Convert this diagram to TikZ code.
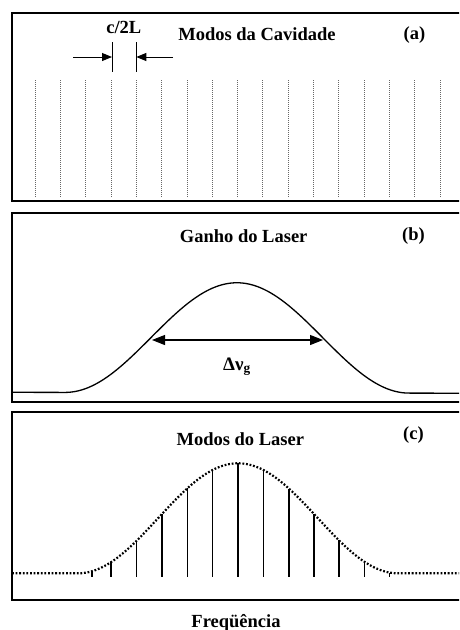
\documentclass[tikz,border=0pt]{standalone}
\usepackage{fontspec}
\setmainfont{Liberation Serif}
\usetikzlibrary{arrows.meta}
\begin{document}
\begin{tikzpicture}[x=1pt,y=-1pt,
  declare function={
    gainb(\t)=392.3-55*(1+cos(min(abs(\t-237),172)/172*180))+0.002*(\t-12);
    envc(\t)=573.3-55*(1+cos(min(abs(\t-238),160)/160*180));
  },
  panel/.style={draw=black,line width=2.2pt},
  lbl/.style={font=\fontsize{18.5}{22}\selectfont\bfseries, inner sep=0pt, anchor=base},
  cavmode/.style={black!60,line width=0.6pt,dash pattern=on 0.8pt off 1.2pt},
  lasmode/.style={line width=1.5pt},
  gaincurve/.style={line width=1.3pt},
  envcurve/.style={line width=2.2pt,dash pattern=on 1.8pt off 1.8pt},
  bigtip/.style={-{Triangle[length=13pt,width=10pt]}, line width=1.1pt},
  smalltip/.style={-{Triangle[length=10pt,width=8pt]}, line width=0.9pt},
  bar/.style={line width=0.9pt}
]
\useasboundingbox (0,0) rectangle (459,630);
\clip (0,0) rectangle (459,630);

% ---------- panel (a)
\draw[panel] (12,13) rectangle (475,201);
\node[lbl] (ta) at (257,40) {Modos da Cavidade};
\node[lbl] (la) at (414.5,39.5) {(a)};
\node[lbl] (cl) at (123.8,33.3) {c/2L};
\foreach \k in {0,...,16}{
  \draw[cavmode] ({35+25.3*\k},80) -- ({35+25.3*\k},197);
}
\coordinate (b1t) at (112,42); \coordinate (b1b) at (112,72);
\coordinate (b2t) at (136.3,42); \coordinate (b2b) at (136.3,72);
\draw[bar] (b1t) -- (b1b);
\draw[bar] (b2t) -- (b2b);
\coordinate (a1s) at (73,57); \coordinate (a1e) at (112,57);
\coordinate (a2s) at (173,57); \coordinate (a2e) at (136.3,57);
\draw[smalltip] (a1s) -- (a1e);
\draw[smalltip] (a2s) -- (a2e);

% ---------- panel (b)
\draw[panel] (12,213) rectangle (475,402);
\node[lbl] (tb) at (243.7,242.5) {Ganho do Laser};
\node[lbl] (lb) at (413.5,240.5) {(b)};
\draw[gaincurve] plot[domain=12:470,samples=230] (\x,{gainb(\x)});
\coordinate (gm) at (237,340);
\coordinate (gl) at (152,340);
\coordinate (gr) at (323,340);
\draw[bigtip] (gm) -- (gl);
\draw[bigtip] (gm) -- (gr);
\node[font=\fontsize{19}{22}\selectfont\bfseries, inner sep=0pt, anchor=base] (dn) at (237,370) {Δν\textsubscript{g}};

% ---------- panel (c)
\draw[panel] (12,412) rectangle (475,600);
\node[lbl] (tc) at (240.3,445) {Modos do Laser};
\node[lbl] (lc) at (413.5,439.3) {(c)};
\draw[envcurve] plot[domain=12:470,samples=230] (\x,{envc(\x)});
\foreach \xx in {92,111,136.5,162,187.3,212.5,238,263.5,289,314,339,364.3,389.3}{
  \draw[lasmode] (\xx,576.5) -- (\xx,{envc(\xx)});
}
\node[lbl] (fq) at (236,627.5) {Freqüência};
\end{tikzpicture}
\end{document}
